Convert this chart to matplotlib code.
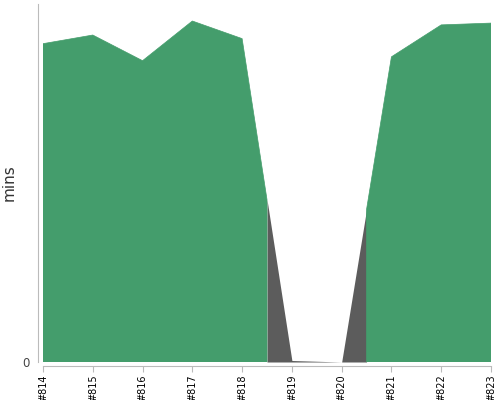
import matplotlib
matplotlib.use("Agg")
from matplotlib import pyplot as plt

builds = [814, 815, 816, 817, 818, 819, 820, 821, 822, 823]
build_labels = ["#814", "#815", "#816", "#817", "#818", "#819", "#820", "#821", "#822", "#823"]
durations = [10.67, 10.96, 10.10, 11.43, 10.84, 0.05, 0.0, 10.23, 11.30, 11.36]
status = ["ok", "ok", "ok", "ok", "ok", "fail", "fail", "ok", "ok", "ok"]

colors = {"ok": "#449d6c", "fail": "#5c5c5c"}

# add the halfway point of each segment, where the colour switches
xs, ys, owners = [], [], []
for i in range(len(builds)):
    xs.append(builds[i])
    ys.append(durations[i])
    owners.append({status[i]})
    if i < len(builds) - 1:
        xs.append((builds[i] + builds[i + 1]) / 2)
        ys.append((durations[i] + durations[i + 1]) / 2)
        owners.append({status[i], status[i + 1]})

fig = plt.figure(figsize=(5, 4), dpi=100)
ax = fig.add_axes([0.086, 0.095, 0.896, 0.895])

fail_mask = ["fail" in o for o in owners]
ok_mask = ["ok" in o for o in owners]
ax.fill_between(xs, ys, 0, where=fail_mask, color=colors["fail"], lw=0)
# thin edge in the same green hides the seam at the colour switch
ax.fill_between(xs, ys, 0, where=ok_mask, facecolor=colors["ok"],
                edgecolor=colors["ok"], lw=0.5)

ax.set_xlim(builds[0], builds[-1])
ax.set_ylim(0, 12)

ax.set_xticks(builds)
ax.set_xticklabels(build_labels)
ax.set_yticks([0])
ax.set_yticklabels(["0"])
ax.tick_params(axis="x", length=4, color="#bbbbbb", pad=2, labelrotation=90,
               labelsize=7, labelcolor="black")
ax.tick_params(axis="y", length=0, pad=6, labelsize=8.5, labelcolor="#444444")

ax.set_ylabel("mins", fontsize=11, color="#333333", labelpad=4)

for side in ["top", "right"]:
    ax.spines[side].set_visible(False)
ax.spines["left"].set_position(("outward", 3.5))
ax.spines["bottom"].set_position(("outward", 3))
ax.spines["left"].set_color("#bbbbbb")
ax.spines["bottom"].set_color("#bbbbbb")

fig.savefig("out.png", dpi=100)
